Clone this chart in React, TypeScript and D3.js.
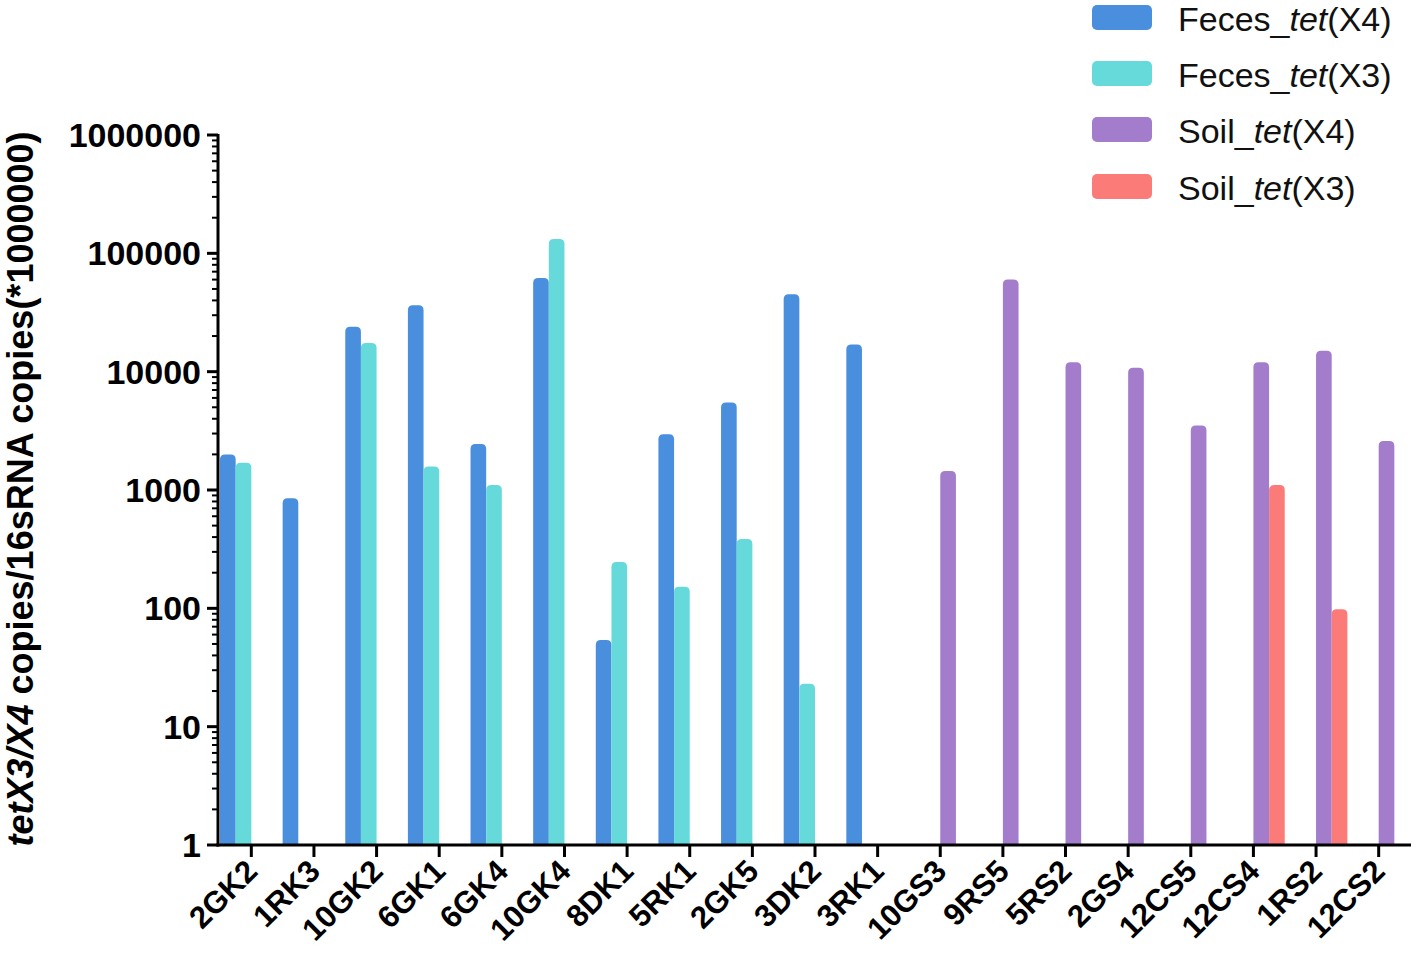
import React from "react";
import * as d3 from "d3";

const categories = ["2GK2", "1RK3", "10GK2", "6GK1", "6GK4", "10GK4", "8DK1", "5RK1", "2GK5", "3DK2", "3RK1", "10GS3", "9RS5", "5RS2", "2GS4", "12CS5", "12CS4", "1RS2", "12CS2"];
const fecesX4: (number | null)[] = [2000, 850, 24000, 36500, 2450, 62000, 54, 2960, 5500, 45000, 17000, null, null, null, null, null, null, null, null];
const fecesX3: (number | null)[] = [1700, null, 17500, 1580, 1100, 132000, 246, 152, 386, 23, null, null, null, null, null, null, null, null, null];
const soilX4: (number | null)[] = [null, null, null, null, null, null, null, null, null, null, null, 1450, 60000, 12000, 10800, 3500, 12000, 15000, 2600];
const soilX3: (number | null)[] = [null, null, null, null, null, null, null, null, null, null, null, null, null, null, null, null, 1100, 98, null];
const seriesNames = ["Feces_tet(X4)", "Feces_tet(X3)", "Soil_tet(X4)", "Soil_tet(X3)"];
const seriesColors = ["#4a8fde", "#66dadb", "#a37ccb", "#fb7b78"];
const yTicks = [1, 10, 100, 1000, 10000, 100000, 1000000];

const seriesData = [fecesX4, fecesX3, soilX4, soilX3];

function topRoundedBar(x: number, y: number, w: number, h: number, r: number) {
  const rr = Math.min(r, w / 2, h);
  return `M${x},${y + h}V${y + rr}Q${x},${y} ${x + rr},${y}H${x + w - rr}Q${x + w},${y} ${x + w},${y + rr}V${y + h}Z`;
}

export default function App() {
  const W = 1418, H = 956;
  const x0 = 218, x1 = 1411, yTop = 135, yBot = 845;
  const x = d3.scaleBand<string>().domain(categories).range([220, 1410]).padding(0);
  const inner = d3.scaleBand<number>().domain([0, 1, 2, 3]).range([0, x.bandwidth()]).padding(0);
  const y = d3.scaleLog().domain([1, 1e6]).range([yBot, yTop]);

  const minor: number[] = [];
  for (let e = 0; e < 6; e++) for (let k = 2; k <= 9; k++) minor.push(k * Math.pow(10, e));

  const font = "Arial, 'Liberation Sans', Helvetica, sans-serif";

  const legendRows = [18, 74, 130, 187];

  return (
    <svg width={W} height={H} style={{ position: "absolute", left: 0, top: 0, background: "#fff" }} fontFamily={font}>
      <rect x={0} y={0} width={W} height={H} fill="#fff" />
      {/* bars */}
      {seriesData.map((arr, si) =>
        arr.map((v, ci) => {
          if (v == null) return null;
          const bx = (x(categories[ci]) as number) + (inner(si) as number);
          const by = y(v);
          return (
            <path key={`b${si}-${ci}`} d={topRoundedBar(bx, by, inner.bandwidth(), yBot - by, 5)} fill={seriesColors[si]} />
          );
        })
      )}
      {/* y axis */}
      <line x1={x0} x2={x0} y1={yTop - 1} y2={yBot + 1.5} stroke="#000" strokeWidth={3} />
      {yTicks.map((t) => (
        <g key={`yt${t}`}>
          <line x1={x0 - 11} x2={x0} y1={y(t)} y2={y(t)} stroke="#000" strokeWidth={3} />
          <text x={201} y={y(t) + 12} textAnchor="end" fontSize={34} fontWeight="bold" fill="#000">
            {String(t)}
          </text>
        </g>
      ))}
      {minor.map((t) => (
        <line key={`ym${t}`} x1={x0 - 6} x2={x0} y1={y(t)} y2={y(t)} stroke="#000" strokeWidth={2} />
      ))}
      {/* x axis */}
      <line x1={x0 - 1.5} x2={x1} y1={yBot} y2={yBot} stroke="#000" strokeWidth={3} />
      {categories.map((c) => {
        const cx = (x(c) as number) + x.bandwidth() / 2;
        return (
          <g key={`xt${c}`}>
            <line x1={cx} x2={cx} y1={yBot} y2={yBot + 12} stroke="#000" strokeWidth={3} />
            <text
              transform={`translate(${cx + 8},${yBot + 28}) rotate(-45)`}
              textAnchor="end"
              fontSize={31}
              fontWeight="bold"
              fill="#000"
            >
              {c}
            </text>
          </g>
        );
      })}
      {/* y title */}
      <text transform={`translate(33,489) rotate(-90)`} textAnchor="middle" fontSize={36} fontWeight="bold" fill="#000">
        <tspan fontStyle="italic">tetX3/X4</tspan>
        <tspan> copies/16sRNA copies(*1000000)</tspan>
      </text>
      {/* legend */}
      {seriesNames.map((n, i) => {
        const [pre, rest] = n.split("_tet");
        return (
          <g key={`lg${i}`}>
            <rect x={1092} y={legendRows[i] - 13} width={60} height={25} rx={5} fill={seriesColors[i]} />
            <text x={1178} y={legendRows[i] + 13} fontSize={34} fill="#111">
              <tspan>{pre}_</tspan>
              <tspan fontStyle="italic">tet</tspan>
              <tspan>{rest}</tspan>
            </text>
          </g>
        );
      })}
    </svg>
  );
}
